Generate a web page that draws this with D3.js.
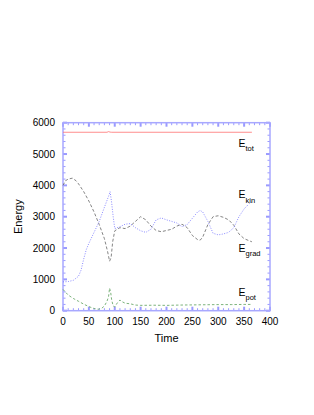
<!DOCTYPE html>
<html>
<head>
<meta charset="utf-8">
<script src="https://cdn.jsdelivr.net/npm/d3@7"></script>
<style>
    body { margin: 0; background: #fff; }
    svg text { font-family: "Liberation Sans", Arial, sans-serif; fill: #000; }
</style>
</head>
<body>
<script>

    // values
    var totTime = [0, 85, 88, 91, 94, 365];
    var totVal = [5695, 5695, 5715, 5700, 5695, 5695];

    var kinTime = [0, 10, 20, 30, 35, 40, 45, 50, 60, 70, 80, 88, 91, 94, 97, 100, 110, 120, 130, 140, 150, 160, 170, 180, 190, 200, 210, 220, 230, 240, 250, 260, 265, 270, 280, 290, 300, 310, 320, 330, 340, 350, 360, 365];
    var kinVal = [920, 930, 970, 1100, 1300, 1650, 1950, 2150, 2500, 2850, 3300, 3650, 3800, 3450, 3000, 2620, 2680, 2760, 2780, 2650, 2550, 2500, 2600, 2900, 2960, 2900, 2850, 2800, 2680, 2750, 2950, 3150, 3200, 3150, 2850, 2470, 2420, 2450, 2500, 2650, 3000, 3250, 3420, 3470];

    var gradTime = [0, 5, 10, 18, 25, 30, 40, 50, 60, 70, 80, 86, 90, 93, 96, 100, 110, 120, 130, 140, 150, 160, 170, 180, 190, 200, 210, 220, 230, 240, 250, 260, 265, 270, 280, 290, 300, 310, 320, 330, 340, 350, 360, 365];
    var gradVal = [4000, 4150, 4200, 4230, 4150, 4050, 3800, 3500, 3150, 2750, 2300, 1900, 1580, 1700, 2200, 2550, 2650, 2620, 2700, 2850, 3000, 2900, 2700, 2560, 2520, 2560, 2600, 2700, 2760, 2650, 2400, 2270, 2250, 2350, 2750, 3000, 3030, 2980, 2900, 2730, 2450, 2300, 2230, 2200];

    var potTime = [0, 10, 20, 30, 40, 50, 60, 68, 75, 80, 85, 88, 90, 92, 94, 97, 100, 105, 110, 115, 120, 130, 140, 150, 175, 200, 225, 250, 275, 300, 325, 350, 365];
    var potVal = [680, 500, 390, 300, 210, 130, 70, 45, 80, 150, 300, 450, 720, 600, 350, 150, 120, 250, 340, 280, 240, 220, 180, 170, 175, 170, 180, 185, 190, 195, 195, 200, 200];

    var xTicks = [0, 50, 100, 150, 200, 250, 300, 350, 400];
    var yTicks = [0, 1000, 2000, 3000, 4000, 5000, 6000];

    var width = 314, height = 415;
    var plotL = 63, plotR = 270, plotT = 122.7, plotB = 310.7;

    var svg = d3.select("body").append("svg")
        .attr("width", width)
        .attr("height", height);

    var x = d3.scaleLinear().domain([0, 400]).range([plotL, plotR]);
    var y = d3.scaleLinear().domain([0, 6000]).range([plotB, plotT]);

    var axisColor = "#9a9aff";

    // minor + major ticks on all four sides, pointing inward
    var g = svg.append("g");
    var xMinor = d3.range(0, 401, 10);
    var yMinor = d3.range(0, 6001, 200);

    xMinor.forEach(function (t) {
        var major = t % 50 == 0;
        var len = major ? 4 : 2.5;
        [[plotB, -1], [plotT, 1]].forEach(function (s) {
            g.append("line")
                .attr("x1", x(t)).attr("x2", x(t))
                .attr("y1", s[0]).attr("y2", s[0] + s[1] * len)
                .attr("stroke", axisColor)
                .attr("stroke-width", major ? 2 : 1);
        });
    });
    yMinor.forEach(function (v) {
        var major = v % 1000 == 0;
        var len = major ? 4 : 2.5;
        [[plotL, 1], [plotR, -1]].forEach(function (s) {
            g.append("line")
                .attr("y1", y(v)).attr("y2", y(v))
                .attr("x1", s[0]).attr("x2", s[0] + s[1] * len)
                .attr("stroke", axisColor)
                .attr("stroke-width", major ? 2 : 1);
        });
    });

    svg.append("rect")
        .attr("x", plotL).attr("y", plotT)
        .attr("width", plotR - plotL).attr("height", plotB - plotT)
        .attr("fill", "none")
        .attr("stroke", "#a8a8ff")
        .attr("stroke-width", 1.5);

    // tick labels
    svg.selectAll(".xl").data(xTicks).enter().append("text")
        .attr("x", function (d) { return x(d); })
        .attr("y", 325)
        .attr("text-anchor", "middle")
        .attr("font-size", 10)
        .text(function (d) { return d; });

    svg.selectAll(".yl").data(yTicks).enter().append("text")
        .attr("x", 55)
        .attr("y", function (d) { return y(d); })
        .attr("dy", "0.35em")
        .attr("text-anchor", "end")
        .attr("font-size", 10)
        .text(function (d) { return d; });

    svg.append("text")
        .attr("x", (plotL + plotR) / 2).attr("y", 341.5)
        .attr("text-anchor", "middle")
        .attr("font-size", 11)
        .text("Time");

    svg.append("text")
        .attr("transform", "translate(21.5," + ((plotT + plotB) / 2) + ") rotate(-90)")
        .attr("text-anchor", "middle")
        .attr("font-size", 11)
        .text("Energy");

    // curves
    var line = d3.line()
        .x(function (d) { return x(d[0]); })
        .y(function (d) { return y(d[1]); });

    function series(ts, vs, color, dash) {
        var pts = ts.map(function (t, i) { return [t, vs[i]]; });
        svg.append("path")
            .attr("d", line(pts))
            .attr("fill", "none")
            .attr("stroke", color)
            .attr("stroke-width", 0.8)
            .attr("stroke-dasharray", dash);
    }

    series(potTime, potVal, "#5aa05a", "2.5,2");
    series(gradTime, gradVal, "#666", "3,2");
    series(kinTime, kinVal, "#6c6cff", "1,1.5");
    series(totTime, totVal, "#ff7070", null);

    // curve labels
    var labels = [
        { main: "E", sub: "tot", y: 146.7 },
        { main: "E", sub: "kin", y: 198.3 },
        { main: "E", sub: "grad", y: 251.7 },
        { main: "E", sub: "pot", y: 296 }
    ];
    labels.forEach(function (l) {
        var t = svg.append("text")
            .attr("x", 238.5)
            .attr("y", l.y)
            .attr("font-size", 10.5);
        t.append("tspan").text(l.main);
        t.append("tspan")
            .attr("dy", 4.2)
            .attr("font-size", 7.5)
            .text(l.sub);
    });

</script>
</body>
</html>
